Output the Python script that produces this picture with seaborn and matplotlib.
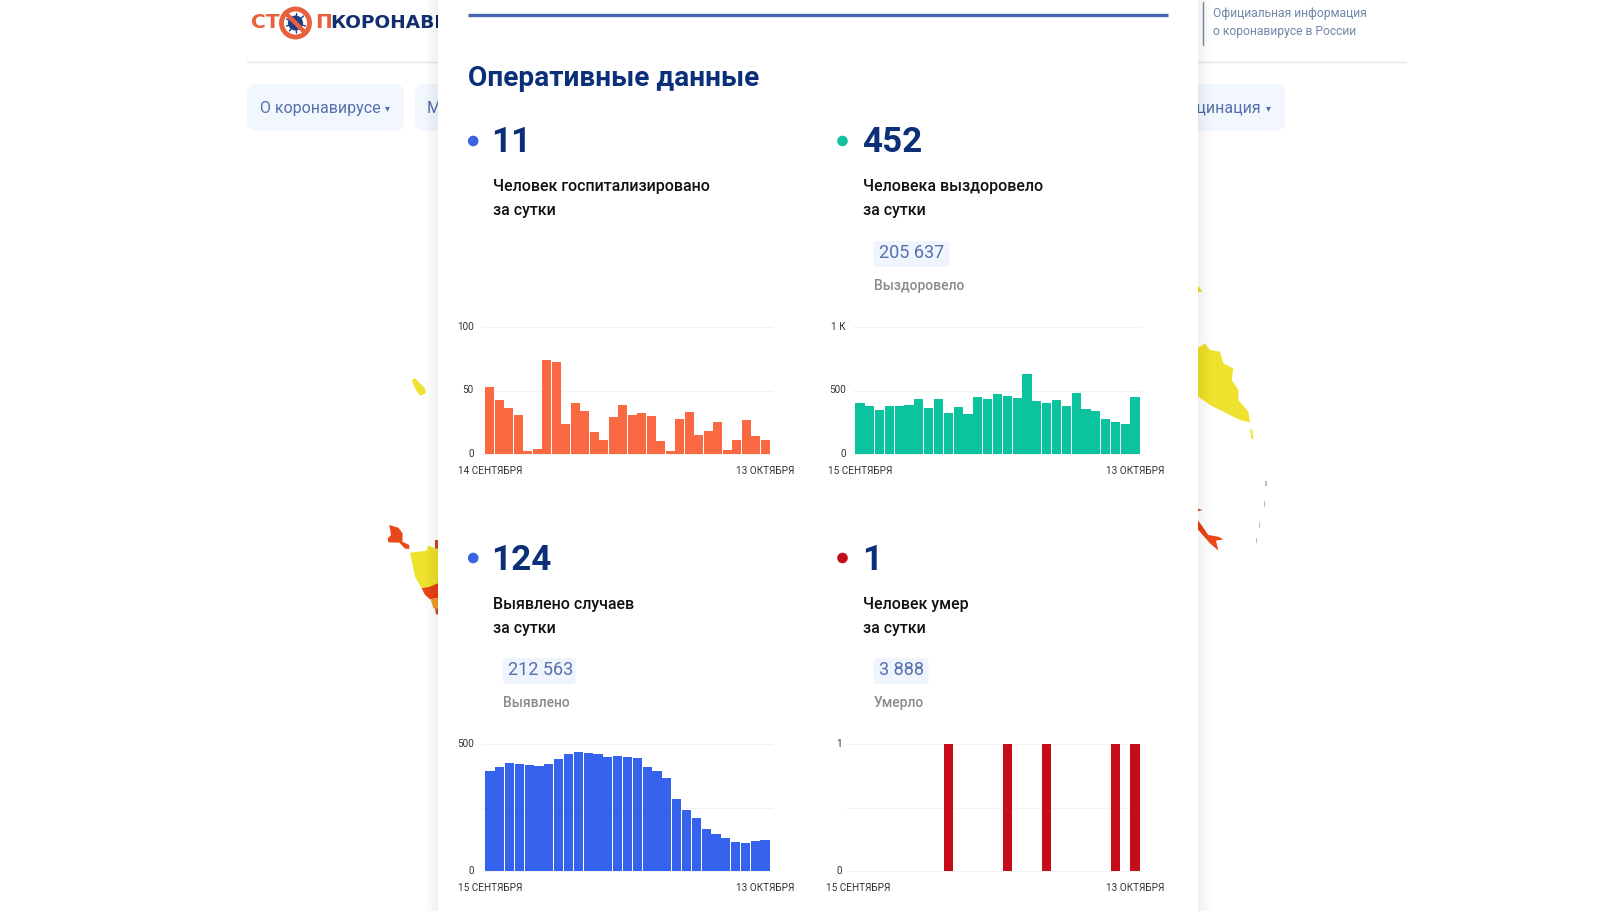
import matplotlib
matplotlib.use("Agg")
import matplotlib.pyplot as plt
from matplotlib.patches import Rectangle, FancyBboxPatch, Circle, Polygon
from matplotlib.transforms import ScaledTranslation
import seaborn as sns

sns.set_theme(style="white")
plt.rcParams['font.family'] = ['Roboto', 'DejaVu Sans']

# ---------- data ----------
hospitalized = [53, 43, 36, 31, 2, 4, 74, 73, 24, 40, 34, 17, 11, 29, 39, 31, 32, 30, 10, 2,
                28, 33, 15, 18, 25, 3, 11, 27, 14, 11]
recovered = [403, 379, 347, 379, 376, 384, 432, 363, 437, 321, 371, 316, 450, 432, 474, 458,
             442, 632, 421, 400, 426, 382, 484, 358, 342, 274, 250, 237, 452]
cases = [393, 412, 425, 421, 417, 414, 422, 441, 463, 470, 466, 462, 451, 454, 450, 447,
         412, 393, 368, 286, 241, 209, 166, 145, 132, 114, 109, 118, 124]
deaths = [0, 0, 0, 0, 0, 0, 0, 0, 0, 1, 0, 0, 0, 0, 0, 1, 0, 0, 0, 1, 0, 0, 0, 0, 0, 0, 1, 0, 1]

start_labels = ["14 СЕНТЯБРЯ", "15 СЕНТЯБРЯ", "15 СЕНТЯБРЯ", "15 СЕНТЯБРЯ"]
end_label = "13 ОКТЯБРЯ"
big_numbers = ["11", "452", "124", "1"]
captions = ["Человек госпитализировано\nза сутки", "Человека выздоровело\nза сутки",
            "Выявлено случаев\nза сутки", "Человек умер\nза сутки"]
totals = [None, "205 637", "212 563", "3 888"]
total_labels = [None, "Выздоровело", "Выявлено", "Умерло"]
series_colors = ["#FA6A42", "#0CC39F", "#3563EE", "#C40D18"]
dot_colors = ["#3A63E0", "#14C09F", "#3A63E0", "#C20F1A"]
ticks = [([0, 50, 100], ["0", "50", "100"]),
         ([0, 500, 1000], ["0", "500", "1 К"]),
         ([0, 250, 500], ["0", "", "500"]),
         ([0, 0.5, 1], ["0", "", "1"])]

fig = plt.figure(figsize=(16.2, 9.11), dpi=100, facecolor="white")
bg = fig.add_axes([0, 0, 1, 1], zorder=0)
bg.set_xlim(0, 1620)
bg.set_ylim(911, 0)
bg.axis("off")

NAVY = "#0B2F78"
ORANGE = "#E8603C"
BLUE_TXT = "#5470AD"

# ---------- page behind the card ----------
bg.plot([247, 1406], [62, 62], color="#E6E6E6", lw=1, zorder=1)
for x0, x1 in [(247, 404), (415, 560), (1100, 1285)]:
    bg.add_patch(FancyBboxPatch((x0, 84), x1 - x0, 47, boxstyle="round,pad=0,rounding_size=10",
                                fc="#F2F6FD", ec="none", zorder=1))
bg.text(259.5, 108, "О коронавирусе", fontsize=11.5, color=BLUE_TXT, va="center", zorder=2)
bg.text(385, 108.5, "▾", fontsize=7, color=BLUE_TXT, va="center", zorder=2, family="DejaVu Sans")
bg.text(427, 108, "Меры", fontsize=11.5, color=BLUE_TXT, va="center", zorder=2)
bg.text(1261, 108, "Вакцинация", fontsize=11.5, color=BLUE_TXT, va="center", ha="right", zorder=2)
bg.text(1266, 108.5, "▾", fontsize=7, color=BLUE_TXT, va="center", zorder=2, family="DejaVu Sans")
bg.text(1213, 14, "Официальная информация", fontsize=8.7, color="#7186A8", va="center", zorder=2)
bg.text(1213, 32, "о коронавирусе в России", fontsize=8.7, color="#7186A8", va="center", zorder=2)
bg.plot([1202.5, 1202.5], [2, 45], color="#7A8AA0", lw=1, zorder=2)

# logo
bg.text(250.5, 23, "СТ", fontsize=14.5, fontweight="bold", color=ORANGE, va="center",
        family="DejaVu Sans", zorder=2)
bg.add_patch(Circle((295.5, 23), 14, fc="white", ec=ORANGE, lw=3.5, zorder=2))
bg.add_patch(Circle((295.5, 23), 7.5, fc="#1D3F86", ec="none", zorder=3))
for dx, dy in [(-9, -4), (-6, 8), (8, -7), (10, 3), (0, -10), (1, 10), (-9, 3), (7, 8)]:
    bg.plot([295.5, 295.5 + dx], [23, 23 + dy], color="#1D3F86", lw=1, zorder=3)
bg.plot([285.5, 305.5], [13, 33], color=ORANGE, lw=3.2, zorder=4)
bg.text(315, 23, "П", fontsize=14.5, fontweight="bold", color=ORANGE, va="center",
        family="DejaVu Sans", zorder=2)
bg.text(330, 23, "КОРОНАВИРУС", fontsize=13.3, fontweight="bold", color="#12306F", va="center",
        family="DejaVu Sans", zorder=2)


def blob(ox, oy, pts, color):
    bg.add_patch(Polygon([(ox + a / 3, oy + b / 3) for a, b in pts], closed=True, fc=color, ec="none", zorder=1))


YEL = "#EFE22F"
RED = "#E8481A"
blob(370, 360, [(125, 60), (135, 55), (165, 85), (167, 100), (150, 107), (135, 85)], YEL)
blob(370, 360, [(58, 495), (85, 503), (98, 520), (97, 545), (118, 555), (118, 567), (105, 566), (88, 548),
                (55, 547), (53, 535), (63, 525)], RED)
blob(370, 360, [(120, 578), (170, 572), (175, 556), (215, 575), (215, 665), (180, 690), (158, 690), (135, 650)], YEL)
blob(370, 360, [(155, 685), (180, 680), (215, 665), (215, 712), (180, 718), (165, 705)], RED)
blob(370, 360, [(182, 718), (215, 712), (215, 745), (190, 745)], "#F0A030")
blob(370, 360, [(195, 745), (215, 745), (215, 768), (198, 762)], "#C8502A")
blob(370, 360, [(195, 540), (215, 540), (215, 570), (195, 565)], "#C8502A")
blob(1190, 280, [(0, 205), (25, 203), (45, 190), (60, 210), (90, 215), (100, 250), (130, 265), (125, 300),
                 (145, 330), (145, 360), (175, 395), (180, 427), (150, 420), (60, 375), (25, 350), (0, 335)], YEL)
blob(1190, 280, [(180, 448), (187, 450), (190, 478), (184, 475)], YEL)
blob(1190, 280, [(0, 680), (38, 690), (0, 700)], "#C8502A")
blob(1190, 280, [(0, 710), (25, 722), (55, 765), (85, 770), (100, 778), (78, 782), (85, 812), (60, 790),
                 (25, 750), (0, 730)], RED)
blob(1190, 280, [(0, 10), (22, 15), (38, 35), (0, 40)], YEL)
for zx, zy in [(228, 610), (224, 672), (208, 735), (200, 782)]:
    blob(1190, 280, [(zx - 2, zy - 8), (zx + 2, zy - 8), (zx + 2, zy + 8), (zx - 2, zy + 8)], "#C9BDB0")

# card with soft shadow
CARD_L, CARD_R = 438, 1198
for i in range(14):
    grow = 14 - i
    bg.add_patch(Rectangle((CARD_L - grow, 0), CARD_R - CARD_L + 2 * grow, 911, fc="black", ec="none",
                           alpha=0.0045, zorder=5))
bg.add_patch(Rectangle((CARD_L, 0), CARD_R - CARD_L, 911, fc="white", ec="none", zorder=6))
bg.plot([467.5, 1168], [15.2, 15.2], color="#4666B0", lw=2.4, solid_capstyle="butt", zorder=7)
bg.text(467.5, 78, "Оперативные данные", fontsize=20.15, fontweight="bold", color=NAVY, va="center", zorder=7)

# ---------- text blocks ----------
dot_x = [473.2, 842.5]
number_x = [491.6, 862.5]
caption_x = [492.7, 863]
dot_y = [141, 558]
number_y = [143, 560]
caption_y = [186, 604]
pill_x = [502.7, 873.5]
for i in range(4):
    col, row = i % 2, i // 2
    ry = dot_y[row]
    bg.add_patch(Circle((dot_x[col], ry), 5.3, fc=dot_colors[i], ec="none", zorder=7))
    bg.text(number_x[col], number_y[row], big_numbers[i], fontsize=25.2, fontweight="bold", color=NAVY,
            va="center", zorder=7)
    for j, line in enumerate(captions[i].split("\n")):
        bg.text(caption_x[col], caption_y[row] + j * 24, line, fontsize=11.55, fontweight="medium",
                color="#111111", va="center", zorder=7)
    if totals[i]:
        px = pill_x[col]
        w = {"205 637": 76, "212 563": 73, "3 888": 55}[totals[i]]
        bg.add_patch(FancyBboxPatch((px, ry + 100), w, 26, boxstyle="round,pad=0,rounding_size=4",
                                    fc="#F0F5FD", ec="none", zorder=7))
        bg.text(px + 5.5, ry + 112, totals[i], fontsize=13, color=BLUE_TXT, va="center", zorder=8)
        bg.text(px + 0.5, ry + 145, total_labels[i], fontsize=10, fontweight="medium", color="#8A8A8A",
                va="center", zorder=8)

# ---------- charts ----------
series = [hospitalized, recovered, cases, deaths]
axis_left = [481, 853, 481, 847]
bars_left = [485, 855, 485, 855]
bars_right = [770, 1140, 770, 1140]
axis_right = [772, 1142, 772, 1142]
axis_bottom = [454, 454, 871, 871]
axis_top = [327.3, 327.3, 744.3, 744.3]

for i, values in enumerate(series):
    n = len(values)
    x0, x1, yb, yt = axis_left[i], axis_right[i], axis_bottom[i], axis_top[i]
    ax = fig.add_axes([x0 / 1620, 1 - yb / 911, (x1 - x0) / 1620, (yb - yt) / 911], zorder=2)
    ax.patch.set_alpha(0)
    sns.barplot(x=list(range(n)), y=values, color=series_colors[i], saturation=1, width=0.94, ax=ax,
                linewidth=0, zorder=3)
    unit = (bars_right[i] - bars_left[i]) / n
    ax.set_xlim(-0.5 - (bars_left[i] - x0) / unit, n - 0.5 + (x1 - bars_right[i]) / unit)
    tv, tl = ticks[i]
    ax.set_ylim(tv[0], tv[-1])
    ax.set_yticks(tv, tl)
    ax.set_xticks([0, n - 1], [start_labels[i], end_label])
    ax.tick_params(axis="both", length=0, labelsize=7.2, labelcolor="#333333")
    ax.tick_params(axis="x", pad=8.5)
    ax.tick_params(axis="y", pad=3.5 if i == 3 else 5.2)
    for lab in ax.get_yticklabels():
        lab.set_transform(lab.get_transform() + ScaledTranslation(0, 1.2 / 100, fig.dpi_scale_trans))
    ax.yaxis.grid(True, color="#F3F3F3", lw=0.8, clip_on=False, zorder=1)
    ax.xaxis.grid(False)
    ax.set_axisbelow(True)
    ax.set_xlabel("")
    ax.set_ylabel("")
    for s in ax.spines.values():
        s.set_visible(False)
    if i == 3:
        lab = ax.get_xticklabels()[0]
        lab.set_transform(lab.get_transform() + ScaledTranslation(-2 / 100, 0, fig.dpi_scale_trans))

fig.savefig("out.png", dpi=100)
